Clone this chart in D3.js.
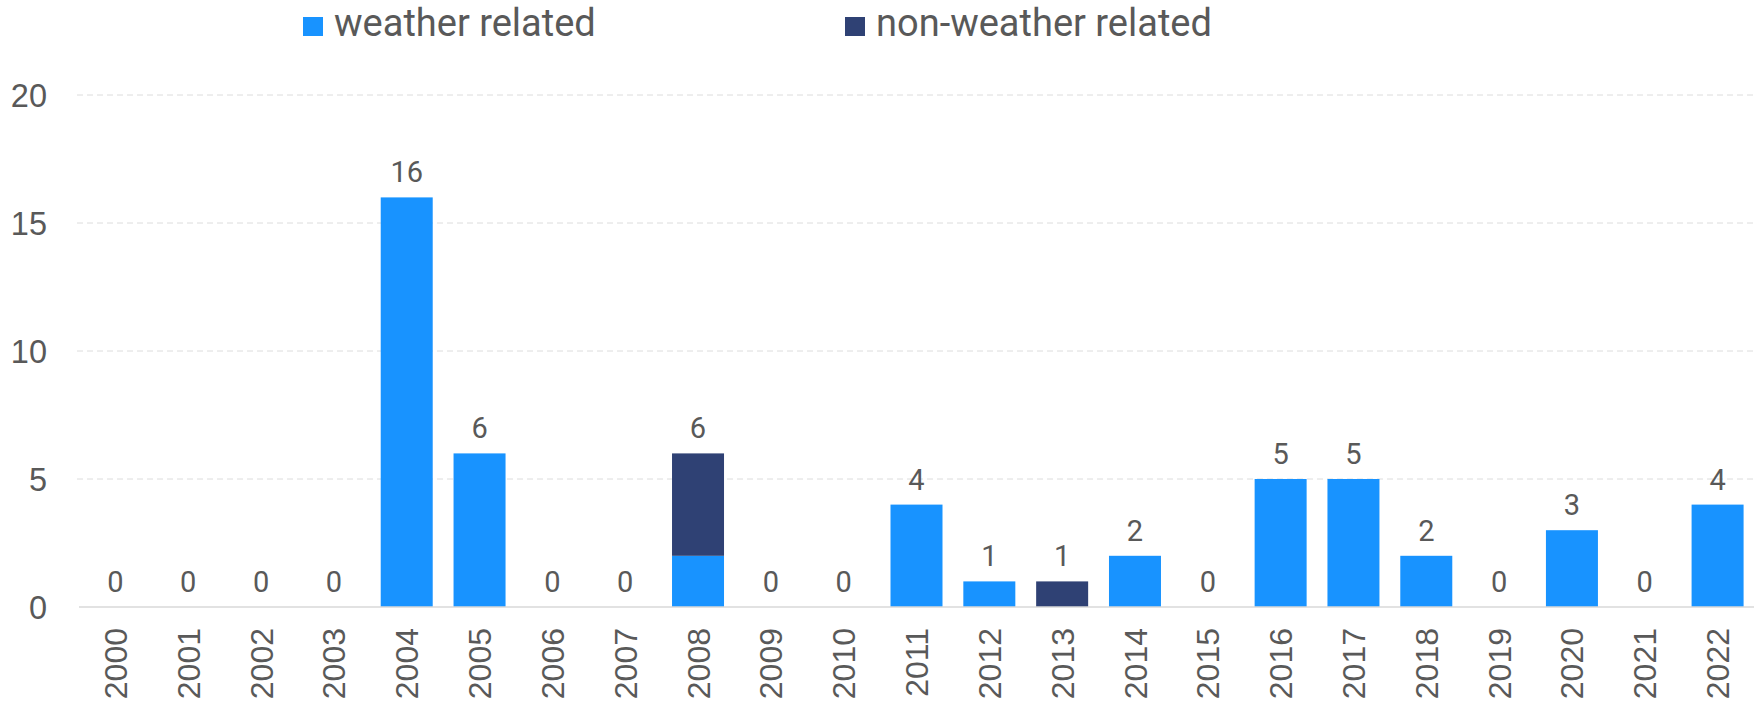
<!DOCTYPE html>
<html>
<head>
<meta charset="utf-8">
<script src="https://cdn.jsdelivr.net/npm/d3@7"></script>
<style>
  html, body { margin: 0; padding: 0; background: #ffffff; }
  svg { display: block; font-family: Roboto, "Noto Sans", sans-serif; }
</style>
</head>
<body>
<svg id="chart" width="1763" height="708"></svg>
<script>
// Incidents per year, split by cause
const years = ["2000","2001","2002","2003","2004","2005","2006","2007","2008","2009","2010","2011",
               "2012","2013","2014","2015","2016","2017","2018","2019","2020","2021","2022"];
const weatherRelated    = [0,0,0,0,16,6,0,0,2,0,0,4,1,0,2,0,5,5,2,0,3,0,4];
const nonWeatherRelated = [0,0,0,0,0,0,0,0,4,0,0,0,0,1,0,0,0,0,0,0,0,0,0];
const seriesNames = ["weather related", "non-weather related"];
const yTicks = [0, 5, 10, 15, 20];

const colors = ["#1893ff", "#2f4174"];
const textColor = "#595959";

const svg = d3.select("#chart");
const plot = { left: 79, right: 1754, top: 95, bottom: 607 };

const rows = years.map((y, i) => ({ year: y, w: weatherRelated[i], n: nonWeatherRelated[i] }));
const stack = d3.stack().keys(["w", "n"])(rows);

const x = d3.scaleBand()
  .domain(years)
  .range([plot.left, plot.right])
  .paddingInner(0.286)
  .paddingOuter(0.143);

const y = d3.scaleLinear().domain([0, 20]).range([plot.bottom, plot.top]);

// y labels
const yAxis = d3.axisLeft(y).tickValues(yTicks).tickSize(0).tickPadding(0);
const gy = svg.append("g").attr("transform", `translate(47,0)`).call(yAxis);
gy.select(".domain").remove();
gy.selectAll("text")
  .attr("fill", textColor)
  .attr("font-size", 32.5)
  .attr("dy", "0.36em");

// horizontal dashed gridlines
svg.append("g").selectAll("line")
  .data(yTicks.filter(t => t > 0))
  .join("line")
  .attr("x1", plot.left - 2).attr("x2", plot.right)
  .attr("y1", d => y(d)).attr("y2", d => y(d))
  .attr("stroke", "#dcdcdc")
  .attr("stroke-width", 1)
  .attr("stroke-dasharray", "6,4");

// stacked bars
svg.append("g").selectAll("g")
  .data(stack)
  .join("g")
  .attr("fill", (d, i) => colors[i])
  .selectAll("rect")
  .data(d => d)
  .join("rect")
  .attr("x", d => x(d.data.year))
  .attr("width", x.bandwidth())
  .attr("y", d => y(d[1]))
  .attr("height", d => y(d[0]) - y(d[1]));

// baseline
svg.append("line")
  .attr("x1", plot.left).attr("x2", plot.right)
  .attr("y1", y(0)).attr("y2", y(0))
  .attr("stroke", "#d9d9d9")
  .attr("stroke-width", 1.5);

// totals above each bar
svg.append("g").selectAll("text")
  .data(rows)
  .join("text")
  .attr("x", d => x(d.year) + x.bandwidth() / 2)
  .attr("y", d => y(d.w + d.n) - 15)
  .attr("text-anchor", "middle")
  .attr("font-size", 29)
  .attr("fill", textColor)
  .text(d => d.w + d.n);

// rotated year labels
const xAxis = d3.axisBottom(x).tickSize(0).tickPadding(0);
const gx = svg.append("g").attr("transform", `translate(0,628)`).call(xAxis);
gx.select(".domain").remove();
gx.selectAll("text")
  .attr("fill", textColor)
  .attr("font-size", 32)
  .attr("text-anchor", "end")
  .attr("x", 0)
  .attr("y", 0)
  .attr("dy", "0.36em")
  .attr("transform", "rotate(-90)");

// legend
const legendX = [303, 845];
const legend = svg.append("g").selectAll("g")
  .data(seriesNames)
  .join("g")
  .attr("transform", (d, i) => `translate(${legendX[i]},0)`);
legend.append("rect")
  .attr("x", 0).attr("y", 17)
  .attr("width", 20).attr("height", 19)
  .attr("fill", (d, i) => colors[i]);
legend.append("text")
  .attr("x", 31).attr("y", 36)
  .attr("font-size", 38)
  .attr("fill", textColor)
  .text(d => d);
</script>
</body>
</html>
